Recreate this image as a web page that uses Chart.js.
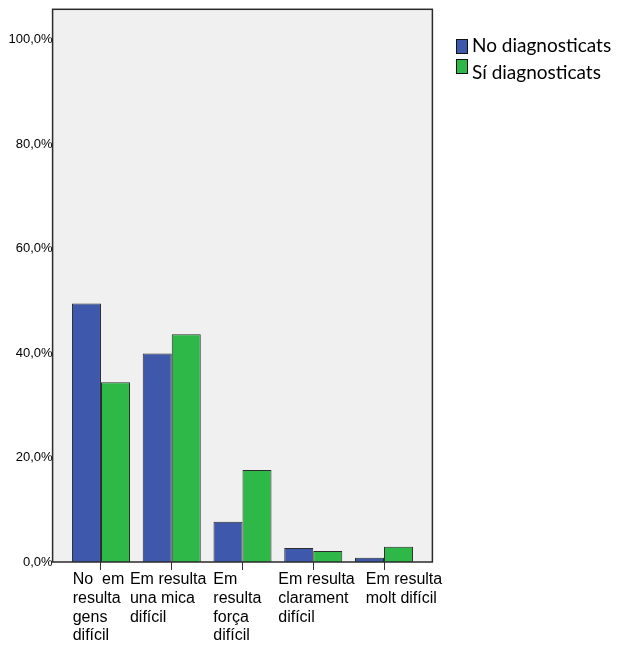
<!DOCTYPE html>
<html><head><meta charset="utf-8">
<script src="https://cdn.jsdelivr.net/npm/chart.js@4.4.0/dist/chart.umd.min.js"></script>
<style>html,body{margin:0;padding:0;background:#fff;overflow:hidden}</style>
</head><body>
<canvas id="c" width="619" height="646" style="display:block;width:619px;height:646px"></canvas>
<script>
// ---- data ----
const categories = [
  ["No  em", "resulta", "gens", "difícil"],
  ["Em resulta", "una mica", "difícil"],
  ["Em", "resulta", "força", "difícil"],
  ["Em resulta", "clarament", "difícil"],
  ["Em resulta", "molt difícil"]
];
const seriesNames = ["No diagnosticats", "Sí diagnosticats"];
const noDiagnosticats = [49.5, 39.9, 7.7, 2.7, 0.8];
const siDiagnosticats = [34.4, 43.6, 17.6, 2.1, 2.9];
const yTicks = [0, 20, 40, 60, 80, 100];

// ---- styling ----
const colors = ["#3E58AC", "#2EB848"];
const labelShift = [-28.3, -41.8, -29.2, -35, -18.3];
const boxPad = 13;

const panelPlugin = {
  id: 'panel',
  beforeDatasetsDraw(chart) {
    const {ctx, chartArea: a} = chart;
    ctx.save();
    ctx.fillStyle = '#F0F0F0';
    ctx.fillRect(a.left - boxPad, a.top, a.right - a.left + 2 * boxPad, a.bottom - a.top);
    ctx.restore();
  },
  afterDatasetsDraw(chart) {
    const {ctx, chartArea: a} = chart;
    ctx.save();
    ctx.strokeStyle = '#2b2b2b';
    ctx.lineWidth = 1.5;
    ctx.strokeRect(a.left - boxPad, a.top, a.right - a.left + 2 * boxPad, a.bottom - a.top);
    ctx.restore();
  },
  beforeDraw(chart) {
    const sx = chart.scales.x;
    const items = sx.getLabelItems(chart.chartArea);
    if (items && !items._shifted) {
      items.forEach((it, i) => { it.options.translation[0] += labelShift[i] || 0; });
      items._shifted = true;
    }
  },
  afterDraw(chart) {
    const {ctx} = chart;
    ctx.save();
    ctx.font = '19px Lato';
    ctx.textBaseline = 'alphabetic';
    ctx.textAlign = 'left';
    const rows = [{by: 39, ty: 52}, {by: 59, ty: 79}];
    chart.data.datasets.forEach((ds, i) => {
      const r = rows[i];
      ctx.fillStyle = ds.backgroundColor;
      ctx.fillRect(456, r.by, 11, 14);
      ctx.strokeStyle = '#111';
      ctx.lineWidth = 1;
      ctx.strokeRect(456.5, r.by + 0.5, 11, 14);
      ctx.fillStyle = '#000';
      ctx.fillText(ds.label, 472, r.ty);
    });
    ctx.restore();
  }
};

new Chart(document.getElementById('c'), {
  type: 'bar',
  data: {
    labels: categories,
    datasets: [
      {label: seriesNames[0], data: noDiagnosticats, backgroundColor: colors[0], borderColor: '#2b2b2b', borderWidth: 1},
      {label: seriesNames[1], data: siDiagnosticats, backgroundColor: colors[1], borderColor: '#2b2b2b', borderWidth: 1}
    ]
  },
  options: {
    responsive: false,
    devicePixelRatio: 1,
    animation: false,
    categoryPercentage: 0.82,
    barPercentage: 1,
    layout: {padding: {top: 9.3, right: 199.6, bottom: 0, left: 0}},
    plugins: {legend: {display: false}, tooltip: {enabled: false}},
    scales: {
      x: {
        type: 'category',
        offset: true,
        border: {display: false},
        grid: {display: true, offset: false, drawOnChartArea: false, drawTicks: true, tickLength: 8, color: '#333', lineWidth: 1},
        ticks: {
          autoSkip: false, maxRotation: 0, minRotation: 0, align: 'start', padding: 0,
          color: '#000', font: {family: 'Liberation Sans, Arial', size: 16, lineHeight: 1.18}
        },
        afterFit(s) { s.height = 84; s.paddingLeft = 0; s.paddingRight = 0; }
      },
      y: {
        min: 0, max: 105.8,
        border: {display: false},
        grid: {display: false, drawTicks: false},
        afterBuildTicks(s) { s.ticks = yTicks.map(v => ({value: v})); },
        ticks: {
          padding: 13, color: '#000',
          font: {family: 'Liberation Sans, Arial', size: 13},
          callback: v => v.toFixed(1).replace('.', ',') + '%'
        },
        afterFit(s) { s.width = 65.6; s.paddingTop = 0; s.paddingBottom = 0; }
      }
    }
  },
  plugins: [panelPlugin]
});
</script>
</body></html>
